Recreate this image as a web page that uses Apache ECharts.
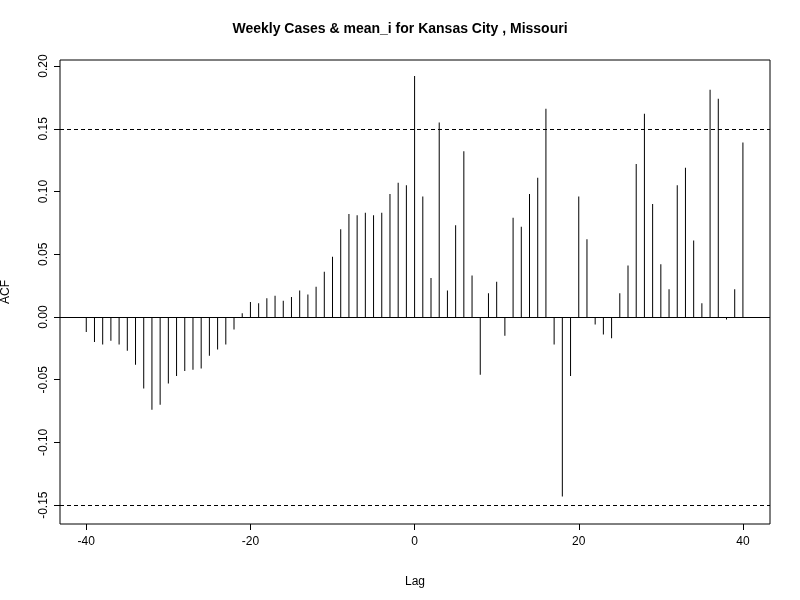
<!DOCTYPE html>
<html><head><meta charset="utf-8">
<script src="https://cdn.jsdelivr.net/npm/echarts@6/dist/echarts.min.js"></script>
<style>body{margin:0}#c{width:800px;height:600px}</style></head>
<body><div id="c"></div>
<script>
const lags = [];
for (let k = -40; k <= 40; k++) lags.push(k);
const acf = [-0.012,-0.02,-0.022,-0.019,-0.022,-0.027,-0.038,-0.057,-0.074,-0.07,
-0.053,-0.047,-0.043,-0.042,-0.041,-0.031,-0.026,-0.022,-0.01,0.003,
0.012,0.011,0.015,0.017,0.013,0.016,0.021,0.018,0.024,0.036,
0.048,0.07,0.082,0.081,0.083,0.081,0.083,0.098,0.107,0.105,
0.192,
0.096,0.031,0.155,0.021,0.073,0.132,0.033,-0.046,0.019,0.028,
-0.015,0.079,0.072,0.098,0.111,0.166,-0.022,-0.143,-0.047,0.096,
0.062,-0.006,-0.014,-0.017,0.019,0.041,0.122,0.162,0.09,0.042,
0.022,0.105,0.119,0.061,0.011,0.181,0.174,-0.002,0.022,0.139];
const ci = 0.153;
const xTicks = [-40,-20,0,20,40];
const yTicks = [-0.15,-0.10,-0.05,0.00,0.05,0.10,0.15,0.20];
const chart = echarts.init(document.getElementById('c'));
const font = 'Liberation Sans, Arial, sans-serif';
chart.setOption({
  animation:false,
  title:{text:'Weekly Cases & mean_i for Kansas City , Missouri',left:'center',top:17,
    textStyle:{fontSize:14,fontWeight:'bold',color:'#000',fontFamily:font}},
  grid:{left:60,right:30,top:60,bottom:76,show:true,borderColor:'#000',borderWidth:1,
    containLabel:false,outerBoundsMode:'none'},
  xAxis:{type:'value',min:-43.2,max:43.3,name:'Lag',nameLocation:'middle',nameGap:52,
    nameTextStyle:{fontSize:12,color:'#000',fontFamily:font},
    axisLine:{show:false,onZero:false},splitLine:{show:false},
    axisTick:{show:true,inside:false,length:6,customValues:xTicks,lineStyle:{color:'#000'}},
    axisLabel:{customValues:xTicks,color:'#000',fontSize:12,margin:12,fontFamily:font}},
  yAxis:{type:'value',min:-0.165,max:0.2048,name:'ACF',nameLocation:'middle',nameGap:48,
    nameTextStyle:{fontSize:12,color:'#000',fontFamily:font},
    axisLine:{show:false,onZero:false},splitLine:{show:false},
    axisTick:{show:true,length:6,customValues:yTicks,lineStyle:{color:'#000'}},
    axisLabel:{customValues:yTicks,rotate:90,color:'#000',fontSize:12,margin:10,fontFamily:font,
      formatter:v=>v.toFixed(2)}},
  series:[{type:'bar',barWidth:1,itemStyle:{color:'#000'},
    data:lags.map((l,i)=>[l,acf[i]]),
    markLine:{symbol:'none',silent:true,label:{show:false},
      data:[{yAxis:0,lineStyle:{type:'solid',color:'#000',width:1}},
            {yAxis:ci,lineStyle:{type:[4,3],color:'#000',width:1}},
            {yAxis:-ci,lineStyle:{type:[4,3],color:'#000',width:1}}]}}]
});
</script></body></html>
